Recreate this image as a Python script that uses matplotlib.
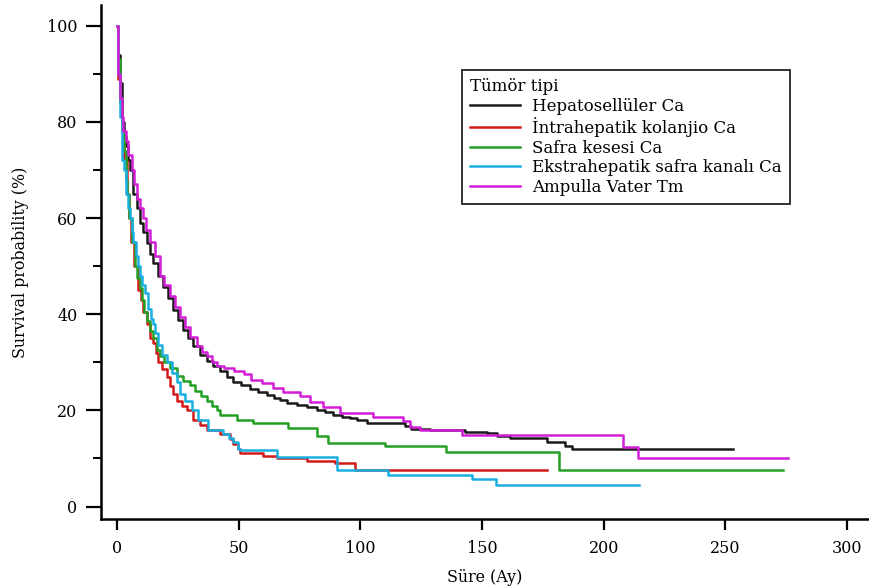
import numpy as np
import matplotlib
matplotlib.use("Agg")
import matplotlib.pyplot as plt
from matplotlib.ticker import MultipleLocator

#Survival data (month, survival %)
hcc_t = [0, 0.3, 1.2, 1.9, 2.8, 3.7, 4.5, 5.3, 6.7, 8, 9.4, 10.8, 12.2, 13.5, 14.9, 17, 19, 21, 23.1, 25, 27.2,
         29, 31.3, 34, 36.9, 39.5, 42.3, 45, 47.8, 51, 54.6, 58, 61.5, 64.5, 67, 70, 73.8, 78, 82, 85.5, 88.9,
         92.5, 95.7, 98.5, 102.6, 118.3, 120.9, 128.6, 143, 151.9, 156, 161.5, 176.5, 184, 186.8, 253.2]
hcc_s = [100, 94, 88, 80, 77, 75, 72, 70, 65, 62, 59, 57, 54.8, 52.5, 50.6, 48, 45.7, 43.3, 40.9, 38.7, 36.7,
         35, 33.3, 31.5, 30.3, 29.3, 28.2, 27, 26, 25.3, 24.5, 23.8, 23.2, 22.6, 22.2, 21.6, 21.1, 20.6, 20.1, 19.6, 19.1,
         18.7, 18.4, 17.9, 17.3, 16.8, 16.2, 15.9, 15.6, 15.3, 14.6, 14.2, 13.4, 12.6, 11.9, 11.9]

ihc_t = [0, 0.3, 1.2, 2, 2.9, 4, 4.9, 5.8, 7, 8.5, 8.8, 10, 10.8, 12.2, 13.6, 14.9, 16, 17, 18.5, 20.4, 21.8,
         23.2, 24.5, 26.5, 28.6, 31.3, 34, 36.9, 42.3, 46.4, 47.7, 49.8, 50.5, 60, 65.6, 78, 89.6, 97.8, 176.5]
ihc_s = [100, 89, 84, 78, 72, 65, 60, 55, 50, 47, 45, 43, 40.5, 38, 35, 34, 32, 30, 28.5, 27, 25,
         23.5, 22, 21, 20, 18, 17, 16, 15, 14, 13, 12, 11.1, 10.6, 10.1, 9.4, 9.1, 7.5, 7.5]

gb_t = [0, 0.3, 1.2, 2, 2.9, 3.5, 4.2, 5.1, 6, 7.4, 8.2, 9.4, 10.2, 11.1, 12.2, 13.5, 14.9, 16.3, 17.7, 19.5,
        21.8, 24.5, 27.2, 30, 32, 34.5, 36.9, 39, 41, 42.3, 49.2, 56, 70.4, 82, 86.8, 110, 135, 181.7, 273.8]
gb_s = [100, 93, 85, 78, 74, 68, 65, 60, 55, 50, 47.5, 45.5, 43, 40.5, 38.5, 36.5, 35, 32.5, 31.2, 30,
        28.8, 27.2, 26.2, 25.2, 24, 23, 22, 21, 20, 19.1, 18, 17.3, 16.3, 14.7, 13.2, 12.6, 11.3, 7.5, 7.5]

ehc_t = [0, 0.5, 1.2, 1.9, 2.9, 3.7, 4.5, 5.3, 6, 6.7, 7.8, 8.8, 9.4, 10.1, 11.5, 12.9, 14, 14.9, 15.6, 17,
         18.5, 20.4, 22.5, 24.5, 26, 27.9, 30.6, 33.4, 37.5, 43.7, 46, 47.8, 49.8, 50.5, 65.6, 90.3, 111.5,
         146, 155.7, 214.6]
ehc_s = [100, 90, 81, 72, 70, 65, 62, 60, 57, 55, 52, 50, 48, 46, 44.5, 41, 39, 38, 36, 33.5,
         31.5, 30, 27.8, 25.8, 23.5, 22, 20, 18, 16, 15, 14.2, 13.4, 12, 11.8, 10.3, 7.6, 6.6,
         5.8, 4.5, 4.5]

av_t = [0, 0.5, 1.2, 2, 2.6, 3.5, 4.6, 6, 7, 8.3, 9.5, 10.8, 12, 13.6, 15.5, 17.7, 19.5, 21.8, 24, 25.9, 28,
        30, 32.7, 35, 36.9, 39, 41, 44, 48, 52, 55, 59.4, 64.2, 68.3, 75.2, 79.3, 84.8, 91.6, 105.3, 117.6,
        120.4, 124.5, 141.6, 207.8, 214.2, 275.8]
av_s = [100, 90, 85, 81, 78, 76, 73, 70, 67, 64, 62, 60, 57.5, 55, 52, 48, 46, 43.7, 41.5, 39.5, 37.3,
        35.3, 33.3, 32.2, 31.2, 30, 29.3, 28.8, 28.1, 27.5, 26.3, 25.7, 24.6, 23.9, 22.9, 21.8, 20.8, 19.4, 18.7, 17.7,
        16.6, 15.9, 14.9, 12.3, 10.1, 10.1]

labels = ["Hepatosellüler Ca", "İntrahepatik kolanjio Ca", "Safra kesesi Ca",
          "Ekstrahepatik safra kanalı Ca", "Ampulla Vater Tm"]

plt.rcParams['font.family'] = ['DejaVu Serif']

fig = plt.figure(figsize=(8.69, 5.87), dpi=100)
ax = fig.add_axes([0.1162, 0.1158, 0.8838, 0.8757])

#Draw the step curves
ax.plot(hcc_t, hcc_s, drawstyle='steps-post', color='#1a1a1a', lw=1.8, label=labels[0])
ax.plot(ihc_t, ihc_s, drawstyle='steps-post', color='#d11a1a', lw=1.8, label=labels[1])
ax.plot(gb_t, gb_s, drawstyle='steps-post', color='#25a025', lw=1.8, label=labels[2])
ax.plot(ehc_t, ehc_s, drawstyle='steps-post', color='#1aaee0', lw=1.8, label=labels[3])
ax.plot(av_t, av_s, drawstyle='steps-post', color='#d21ed6', lw=1.8, label=labels[4])

ax.set_xlim(-6.6, 309)
ax.set_ylim(-2.6, 104.3)
ax.spines['top'].set_visible(False)
ax.spines['right'].set_visible(False)
ax.spines['left'].set_linewidth(1.8)
ax.spines['bottom'].set_linewidth(1.8)

ax.xaxis.set_major_locator(MultipleLocator(50))
ax.yaxis.set_major_locator(MultipleLocator(20))
ax.yaxis.set_minor_locator(MultipleLocator(10))
ax.tick_params(axis='y', which='major', direction='out', length=11, width=1.6, pad=6, labelsize=11.5)
ax.tick_params(axis='y', which='minor', direction='out', length=6, width=1.4)
ax.tick_params(axis='x', which='major', direction='out', length=8, width=1.6, pad=7, labelsize=11.5)

ax.set_xlabel("Süre (Ay)", fontsize=11.4, labelpad=9)
ax.set_ylabel("Survival probability (%)", fontsize=11.4, labelpad=13)

leg = ax.legend(title="Tümör tipi", loc='upper left', bbox_to_anchor=(0.470, 0.8735),
                borderaxespad=0, fontsize=12, title_fontsize=12, alignment='left',
                fancybox=False, edgecolor='black', handlelength=3.0, labelspacing=0.15,
                borderpad=0.5, handletextpad=0.72)
leg.get_frame().set_linewidth(1.4)

plt.savefig('out.png', dpi=100)
